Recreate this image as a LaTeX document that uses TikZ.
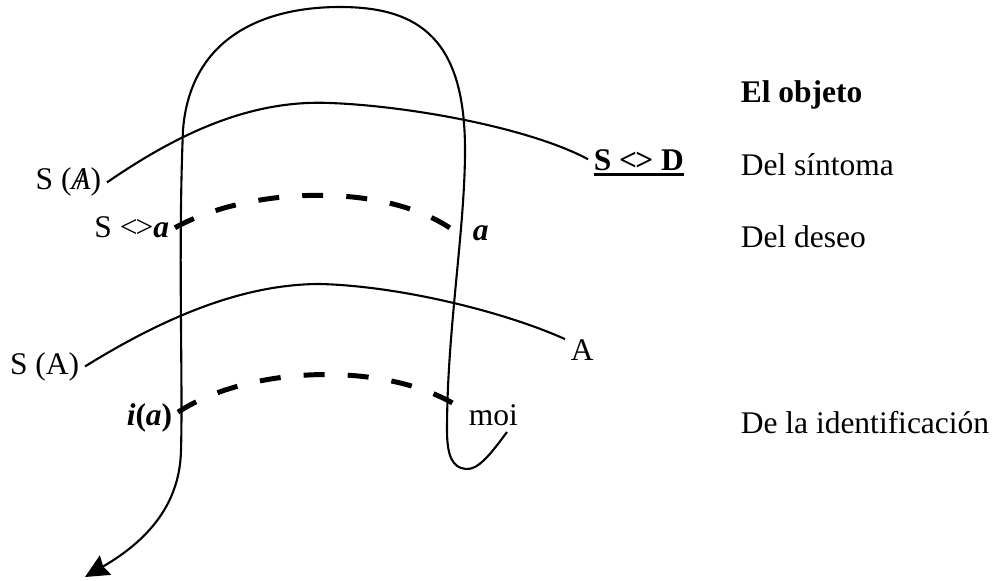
\documentclass[tikz,border=0pt,12pt]{standalone}
\usepackage{fontspec}
\setmainfont{Liberation Serif}
\usetikzlibrary{arrows.meta}

\newcommand{\lozen}{<\kern-0.06em>}
\newcommand{\barA}{\rlap{\textit{A}}\makebox[0.611em]{/}}
\newsavebox{\ulbox}
\newcommand{\thickul}[1]{\sbox{\ulbox}{#1}\rlap{\rule[-2pt]{\wd\ulbox}{1.1pt}}\usebox{\ulbox}}

\begin{document}
\begin{tikzpicture}[x=0.381pt, y=-0.381pt,
  curve/.style={line width=0.8pt},
  dashcurve/.style={line width=1.9pt, dash pattern=on 8pt off 8.8pt},
  lbl/.style={inner sep=2pt}]

\useasboundingbox (0,0) rectangle (997,580);

% left labels
\node[lbl, anchor=base east] (sabar) at (107,190) {S (\barA)};
\node[lbl, anchor=base east] (sdiam) at (175,238) {S \lozen\textbf{\textit{a}}};
\node[lbl, anchor=base east] (sa)    at (85,374)  {S (A)};
\node[lbl, anchor=base east] (ia)    at (178,425) {\textbf{\textit{i}(\textit{a})}};

% labels on the right of the loop
\node[lbl, anchor=base west] (sd)   at (588,171) {\thickul{\textbf{S \lozen\ D}}};
\node[lbl, anchor=base west] (asm)  at (467,241) {\textbf{\textit{a}}};
\node[lbl, anchor=base west] (bigA) at (565,360) {A};
\node[lbl, anchor=base west] (moi)  at (463,425) {moi};

% the object column
\node[lbl, anchor=base west] (objeto) at (735,103) {\textbf{El objeto}};
\node[lbl, anchor=base west] (sint)   at (735,176) {Del síntoma};
\node[lbl, anchor=base west] (deseo)  at (735,248) {Del deseo};
\node[lbl, anchor=base west] (ident)  at (735,433) {De la identificación};

% the loop
\draw[curve, -{Stealth[length=9pt,width=8.5pt,inset=1pt]}]
  (507,432) .. controls (490,455) and (478,470) .. (466,469)
  .. controls (452,468) and (447,455) .. (447,430)
  .. controls (447,330) and (465,230) .. (465,150)
  .. controls (465,40) and (420,7) .. (340,7)
  .. controls (260,7) and (190,40) .. (183,130)
  .. controls (178,250) and (183,380) .. (181,450)
  .. controls (180,510) and (140,545) .. (85,577);

% solid arcs
\draw[curve] (sabar.east) .. controls (190,125) and (260,100) .. (330,103)
  .. controls (410,106) and (530,128) .. ([yshift=1.5pt]sd.west);
\draw[curve] (sa.east) .. controls (160,320) and (240,284) .. (320,284)
  .. controls (400,286) and (505,312) .. ([yshift=4pt]bigA.west);

% dashed arcs
\draw[dashcurve] (sdiam.east) .. controls (250,186) and (390,181) .. ([xshift=-3.4pt]asm.west);
\draw[dashcurve] ([yshift=2pt]ia.east) .. controls (250,365) and (390,360) .. ([yshift=2pt]moi.west);

\end{tikzpicture}
\end{document}
